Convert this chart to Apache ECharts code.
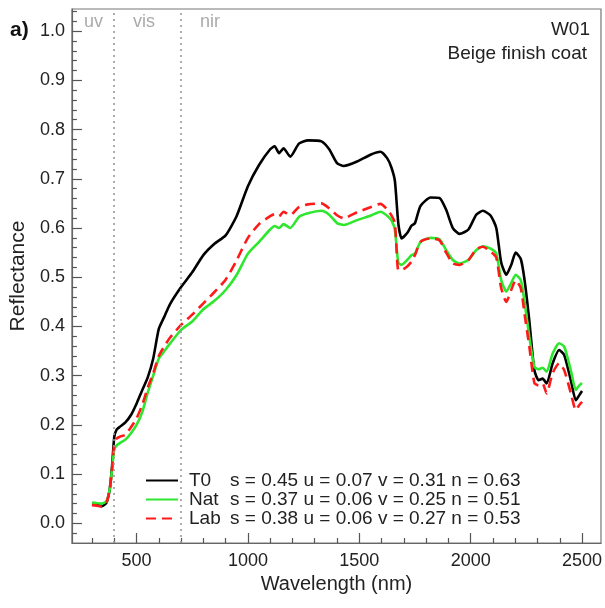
<!DOCTYPE html>
<html>
<head>
<meta charset="utf-8">
<script src="https://cdn.jsdelivr.net/npm/echarts@6/dist/echarts.min.js"></script>
<style>
  html, body { margin: 0; padding: 0; background: #fff; }
  #chart { width: 605px; height: 608px; }
</style>
</head>
<body>
<div id="chart"></div>
<script>
// wavelengths (nm), shared by the three spectra
var wavelengths = [300, 320, 345, 365, 380, 390, 400, 410, 425, 450, 475, 500, 525, 550, 575, 600, 625, 650, 700, 750,
  800, 850, 900, 950, 1000, 1050, 1100, 1120, 1140, 1160, 1190, 1230, 1270, 1330, 1365, 1400, 1430, 1490, 1550, 1595,
  1625, 1645, 1660, 1675, 1690, 1715, 1735, 1750, 1775, 1820, 1860, 1890, 1920, 1950, 1990, 2025, 2055, 2090, 2115, 2137,
  2160, 2182, 2202, 2225, 2242, 2263, 2286, 2305, 2323, 2341, 2368, 2397, 2420, 2450, 2472, 2487, 2500];

var t0 = [0.039, 0.038, 0.035, 0.042, 0.07, 0.115, 0.175, 0.19, 0.196, 0.205, 0.22, 0.243, 0.27, 0.296, 0.335, 0.395, 0.42, 0.445, 0.48, 0.51,
  0.545, 0.568, 0.585, 0.625, 0.685, 0.728, 0.76, 0.766, 0.752, 0.762, 0.745, 0.772, 0.778, 0.776, 0.76, 0.732, 0.726, 0.735, 0.749, 0.755,
  0.742, 0.722, 0.695, 0.61, 0.579, 0.59, 0.605, 0.61, 0.645, 0.662, 0.661, 0.637, 0.6, 0.588, 0.597, 0.627, 0.635, 0.625, 0.6, 0.53,
  0.505, 0.525, 0.55, 0.537, 0.494, 0.413, 0.311, 0.291, 0.294, 0.284, 0.325, 0.352, 0.342, 0.29, 0.25, 0.26, 0.269];

var nat = [0.042, 0.041, 0.04, 0.045, 0.07, 0.11, 0.15, 0.158, 0.163, 0.17, 0.183, 0.2, 0.225, 0.265, 0.3, 0.335, 0.35, 0.365, 0.393, 0.41,
  0.435, 0.452, 0.474, 0.505, 0.548, 0.572, 0.597, 0.604, 0.6, 0.608, 0.6, 0.623, 0.63, 0.635, 0.627, 0.61, 0.606, 0.616, 0.625, 0.633,
  0.625, 0.615, 0.596, 0.53, 0.525, 0.535, 0.545, 0.548, 0.572, 0.58, 0.577, 0.555, 0.535, 0.528, 0.535, 0.555, 0.563, 0.558, 0.548, 0.494,
  0.471, 0.488, 0.505, 0.494, 0.45, 0.38, 0.318, 0.313, 0.316, 0.308, 0.345, 0.366, 0.359, 0.31, 0.271, 0.28, 0.285];

var lab = [0.037, 0.036, 0.034, 0.042, 0.07, 0.11, 0.16, 0.172, 0.176, 0.18, 0.195, 0.213, 0.24, 0.275, 0.305, 0.34, 0.36, 0.377, 0.403, 0.424,
  0.447, 0.47, 0.495, 0.535, 0.58, 0.608, 0.624, 0.628, 0.624, 0.633, 0.626, 0.643, 0.648, 0.65, 0.64, 0.626, 0.62, 0.632, 0.642, 0.649,
  0.638, 0.625, 0.61, 0.515, 0.515, 0.522, 0.532, 0.545, 0.572, 0.579, 0.575, 0.55, 0.528, 0.525, 0.535, 0.557, 0.562, 0.552, 0.54, 0.478,
  0.45, 0.474, 0.494, 0.478, 0.425, 0.36, 0.285, 0.28, 0.284, 0.264, 0.305, 0.325, 0.311, 0.264, 0.23, 0.24, 0.247];

var seriesNames = ['T0', 'Nat', 'Lab'];
var indexText = [
  's = 0.45 u = 0.07 v = 0.31 n = 0.63',
  's = 0.37 u = 0.06 v = 0.25 n = 0.51',
  's = 0.38 u = 0.06 v = 0.27 n = 0.53'
];

var xMajor = [500, 1000, 1500, 2000, 2500];
var xMinor = [300, 400, 600, 700, 800, 900, 1100, 1200, 1300, 1400, 1600, 1700, 1800, 1900, 2100, 2200, 2300, 2400];
var yMajor = [0, 0.1, 0.2, 0.3, 0.4, 0.5, 0.6, 0.7, 0.8, 0.9, 1.0];
var yMinor = [-0.02, 0.02, 0.04, 0.06, 0.08, 0.12, 0.14, 0.16, 0.18, 0.22, 0.24, 0.26, 0.28, 0.32, 0.34, 0.36, 0.38,
  0.42, 0.44, 0.46, 0.48, 0.52, 0.54, 0.56, 0.58, 0.62, 0.64, 0.66, 0.68, 0.72, 0.74, 0.76, 0.78,
  0.82, 0.84, 0.86, 0.88, 0.92, 0.94, 0.96, 0.98, 1.02, 1.04];
var regionLines = [400, 700];
var regionLabels = ['uv', 'vis', 'nir'];

function pairs(vals) {
  return wavelengths.map(function (w, i) { return [w, vals[i]]; });
}

var font = 'Liberation Sans, Arial, sans-serif';
var chart = echarts.init(document.getElementById('chart'));

var option = {
  animation: false,
  textStyle: { fontFamily: font },
  grid: { left: 70, right: 3, top: 9, bottom: 65, show: true, borderColor: '#777', borderWidth: 1.2 },
  xAxis: [{
    type: 'value', min: 210, max: 2585,
    name: 'Wavelength (nm)', nameLocation: 'middle', nameGap: 31,
    nameTextStyle: { fontSize: 20, color: '#222', fontFamily: font },
    axisLine: { show: true, onZero: false, lineStyle: { color: '#666', width: 1.2 } },
    axisTick: { inside: true, length: 10, customValues: xMajor, lineStyle: { color: '#555', width: 1.2 } },
    axisLabel: {
      customValues: xMajor, fontSize: 18, color: '#222', margin: 9, fontFamily: font,
      formatter: function (v) { return String(v); }
    },
    splitLine: { show: false }
  }, {
    type: 'value', min: 210, max: 2585, position: 'bottom',
    axisLine: { show: false, onZero: false },
    axisTick: { inside: true, length: 5, customValues: xMinor, lineStyle: { color: '#555', width: 1.2 } },
    axisLabel: { show: false },
    splitLine: { show: false }
  }],
  yAxis: [{
    type: 'value', min: -0.04, max: 1.045, position: 'left',
    name: 'Reflectance', nameLocation: 'middle', nameGap: 39,
    nameTextStyle: { fontSize: 21, color: '#222', fontFamily: font },
    axisLine: { show: true, onZero: false, lineStyle: { color: '#666', width: 1.2 } },
    axisTick: { inside: true, length: 10, customValues: yMajor, lineStyle: { color: '#555', width: 1.2 } },
    axisLabel: {
      customValues: yMajor, fontSize: 18, color: '#222', margin: 7, fontFamily: font,
      formatter: function (v) { return v.toFixed(1); }
    },
    splitLine: { show: false }
  }, {
    type: 'value', min: -0.04, max: 1.045, position: 'left',
    axisLine: { show: false, onZero: false },
    axisTick: { inside: true, length: 5, customValues: yMinor, lineStyle: { color: '#555', width: 1.2 } },
    axisLabel: { show: false },
    splitLine: { show: false }
  }],
  legend: {
    orient: 'vertical', left: 140, top: 466, itemWidth: 32, itemHeight: 14, itemGap: 0,
    data: seriesNames,
    itemStyle: { opacity: 0 },
    formatter: function (name) {
      return '{n|' + name + '}{s|' + indexText[seriesNames.indexOf(name)] + '}';
    },
    textStyle: {
      fontSize: 19, color: '#222', fontFamily: font,
      rich: {
        n: { fontSize: 19, width: 41, padding: [0, 0, 0, 6], color: '#222', fontFamily: font },
        s: { fontSize: 19, color: '#222', fontFamily: font }
      }
    }
  },
  series: [{
    name: 'T0', type: 'line', data: pairs(t0), showSymbol: false, symbol: 'none', smooth: 0.2,
    lineStyle: { color: '#000', width: 2.6 }, itemStyle: { color: '#000' },
    markLine: {
      silent: true, symbol: 'none', label: { show: false },
      lineStyle: { color: '#999', type: [2, 4], width: 1.6 },
      data: regionLines.map(function (x) { return { xAxis: x }; })
    }
  }, {
    name: 'Nat', type: 'line', data: pairs(nat), showSymbol: false, symbol: 'none', smooth: 0.2,
    lineStyle: { color: '#2ee62e', width: 2.6 }, itemStyle: { color: '#2ee62e' }
  }, {
    name: 'Lab', type: 'line', data: pairs(lab), showSymbol: false, symbol: 'none', smooth: 0.2,
    lineStyle: { color: '#ff1a1a', width: 2.6, type: [10, 6] }, itemStyle: { color: '#ff1a1a' }
  }],
  graphic: [
    { type: 'text', left: 10, top: 20, style: { text: 'a)', fontSize: 21, fontWeight: 'bold', fill: '#111', fontFamily: font } },
    { type: 'text', left: 84, top: 13, style: { text: regionLabels[0], fontSize: 18, fill: '#aaa', fontFamily: font } },
    { type: 'text', left: 133, top: 13, style: { text: regionLabels[1], fontSize: 18, fill: '#aaa', fontFamily: font } },
    { type: 'text', left: 200, top: 13, style: { text: regionLabels[2], fontSize: 18, fill: '#aaa', fontFamily: font } },
    { type: 'text', right: 15, top: 20, style: { text: 'W01', fontSize: 19, fill: '#222', fontFamily: font } },
    { type: 'text', right: 18, top: 44, style: { text: 'Beige finish coat', fontSize: 19, fill: '#222', fontFamily: font } }
  ]
};

chart.setOption(option);
</script>
</body>
</html>
